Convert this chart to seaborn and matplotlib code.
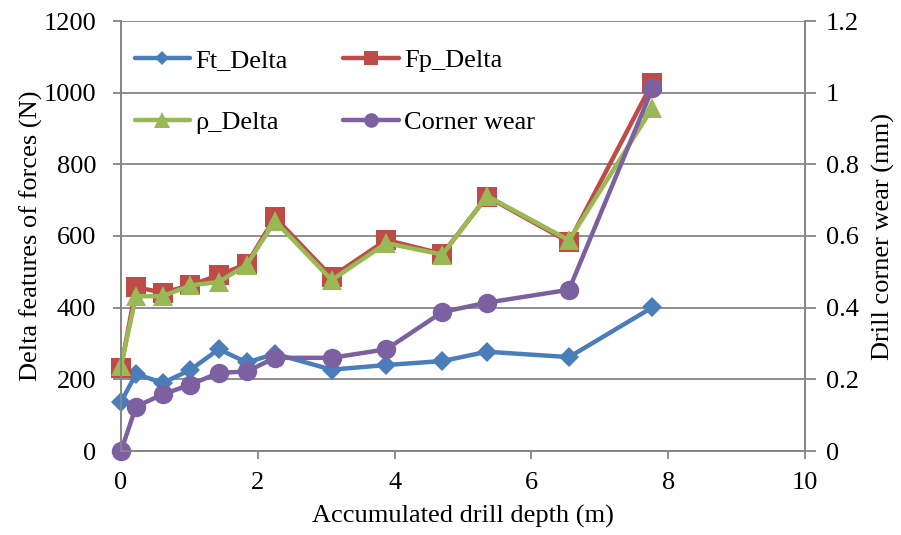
import matplotlib
matplotlib.use("Agg")
import matplotlib.pyplot as plt
import seaborn as sns
import pandas as pd

# Accumulated drill depth (m)
depth = [0.0, 0.22, 0.61, 1.01, 1.43, 1.84, 2.25, 3.08, 3.88, 4.70, 5.35, 6.55, 7.77]
# Delta features of forces (N)
ft_delta = [137, 215, 190, 226, 284, 247, 271, 227, 240, 251, 277, 262, 401]
fp_delta = [232, 457, 442, 462, 491, 522, 652, 486, 589, 550, 710, 583, 1028]
rho_delta = [238, 432, 432, 462, 472, 520, 642, 477, 580, 548, 712, 588, 958]
# Drill corner wear (mm)
corner_wear = [0.0, 0.124, 0.158, 0.185, 0.218, 0.222, 0.260, 0.260, 0.284, 0.388, 0.414, 0.450, 1.012]

df = pd.DataFrame({"depth": depth, "Ft": ft_delta, "Fp": fp_delta,
                   "rho": rho_delta, "wear": corner_wear})

sns.set_style("white")
plt.rcParams["font.family"] = "serif"
plt.rcParams["font.serif"] = ["Liberation Serif", "DejaVu Serif"]
plt.rcParams["font.size"] = 19
plt.rcParams["text.color"] = "black"
plt.rcParams["axes.labelcolor"] = "black"

FS = 19
FAM = ["Liberation Serif", "DejaVu Serif"]
grid_c = "#868686"
fig = plt.figure(figsize=(9.01, 5.35), dpi=100)
ax = fig.add_axes([121 / 901, 1 - 451 / 535, (805 - 121) / 901, (451 - 21) / 535])
ax2 = ax.twinx()

lw = 3.2
common = dict(x="depth", errorbar=None, linewidth=lw, markeredgewidth=0, clip_on=False)
sns.lineplot(data=df, y="Ft", ax=ax, color="#4A7EBB", marker="D", markersize=10,
             label="Ft_Delta", **common)
sns.lineplot(data=df, y="Fp", ax=ax, color="#BE4B48", marker="s", markersize=14,
             label="Fp_Delta", **common)
sns.lineplot(data=df, y="rho", ax=ax, color="#98B954", marker="^", markersize=15,
             label="ρ_Delta", **common)
sns.lineplot(data=df, y="wear", ax=ax2, color="#7D60A0", marker="o", markersize=14,
             label="Corner wear", **common)

ax.set_xlim(0, 10)
ax.set_ylim(0, 1200)
ax2.set_ylim(0, 1.2)
ax.set_xticks([0, 2, 4, 6, 8, 10])
ax.set_yticks(range(0, 1201, 200))
ax2.set_yticks([0, 0.2, 0.4, 0.6, 0.8, 1.0, 1.2])
ax2.set_yticklabels(["0", "0.2", "0.4", "0.6", "0.8", "1", "1.2"])

ax.yaxis.grid(True, color=grid_c, linewidth=1.3)
ax.set_axisbelow(True)

for a in (ax, ax2):
    for s in a.spines.values():
        s.set_color(grid_c)
        s.set_linewidth(1.3)
    a.spines["top"].set_visible(False)
    a.tick_params(direction="out", length=6, width=1.3, color=grid_c,
                  labelsize=FS, labelcolor="black")
    for t in a.get_xticklabels() + a.get_yticklabels():
        t.set_fontfamily(FAM)
ax.tick_params(axis="x", bottom=True, pad=9)
ax.tick_params(axis="y", left=True, pad=12)
ax2.tick_params(axis="y", right=True, length=8, pad=7)

ax.set_xlabel("Accumulated drill depth (m)", fontsize=FS, labelpad=8, fontfamily=FAM)
ax.set_ylabel("Delta features of forces (N)", fontsize=FS, labelpad=0, fontfamily=FAM)
ax2.set_ylabel("Drill corner wear (mm)", fontsize=FS, labelpad=9, fontfamily=FAM)

h1, l1 = ax.get_legend_handles_labels()
h2, l2 = ax2.get_legend_handles_labels()
ax.get_legend().remove()
handles = [h1[0], h1[1], h1[2], h2[0]]
labels = [l1[0], l1[1], l1[2], l2[0]]
# order for a two-column, row-major layout
order = [0, 2, 1, 3]
leg = ax2.legend([handles[i] for i in order], [labels[i] for i in order], ncol=2,
                 loc="upper left", bbox_to_anchor=(0.02, 0.935), frameon=False,
                 prop={"family": FAM, "size": FS},
                 handlelength=2.1, labelspacing=1.45, columnspacing=2.1,
                 handletextpad=0.2, borderaxespad=0, borderpad=0, markerscale=0.75)

fig.savefig("out.png", dpi=100)
